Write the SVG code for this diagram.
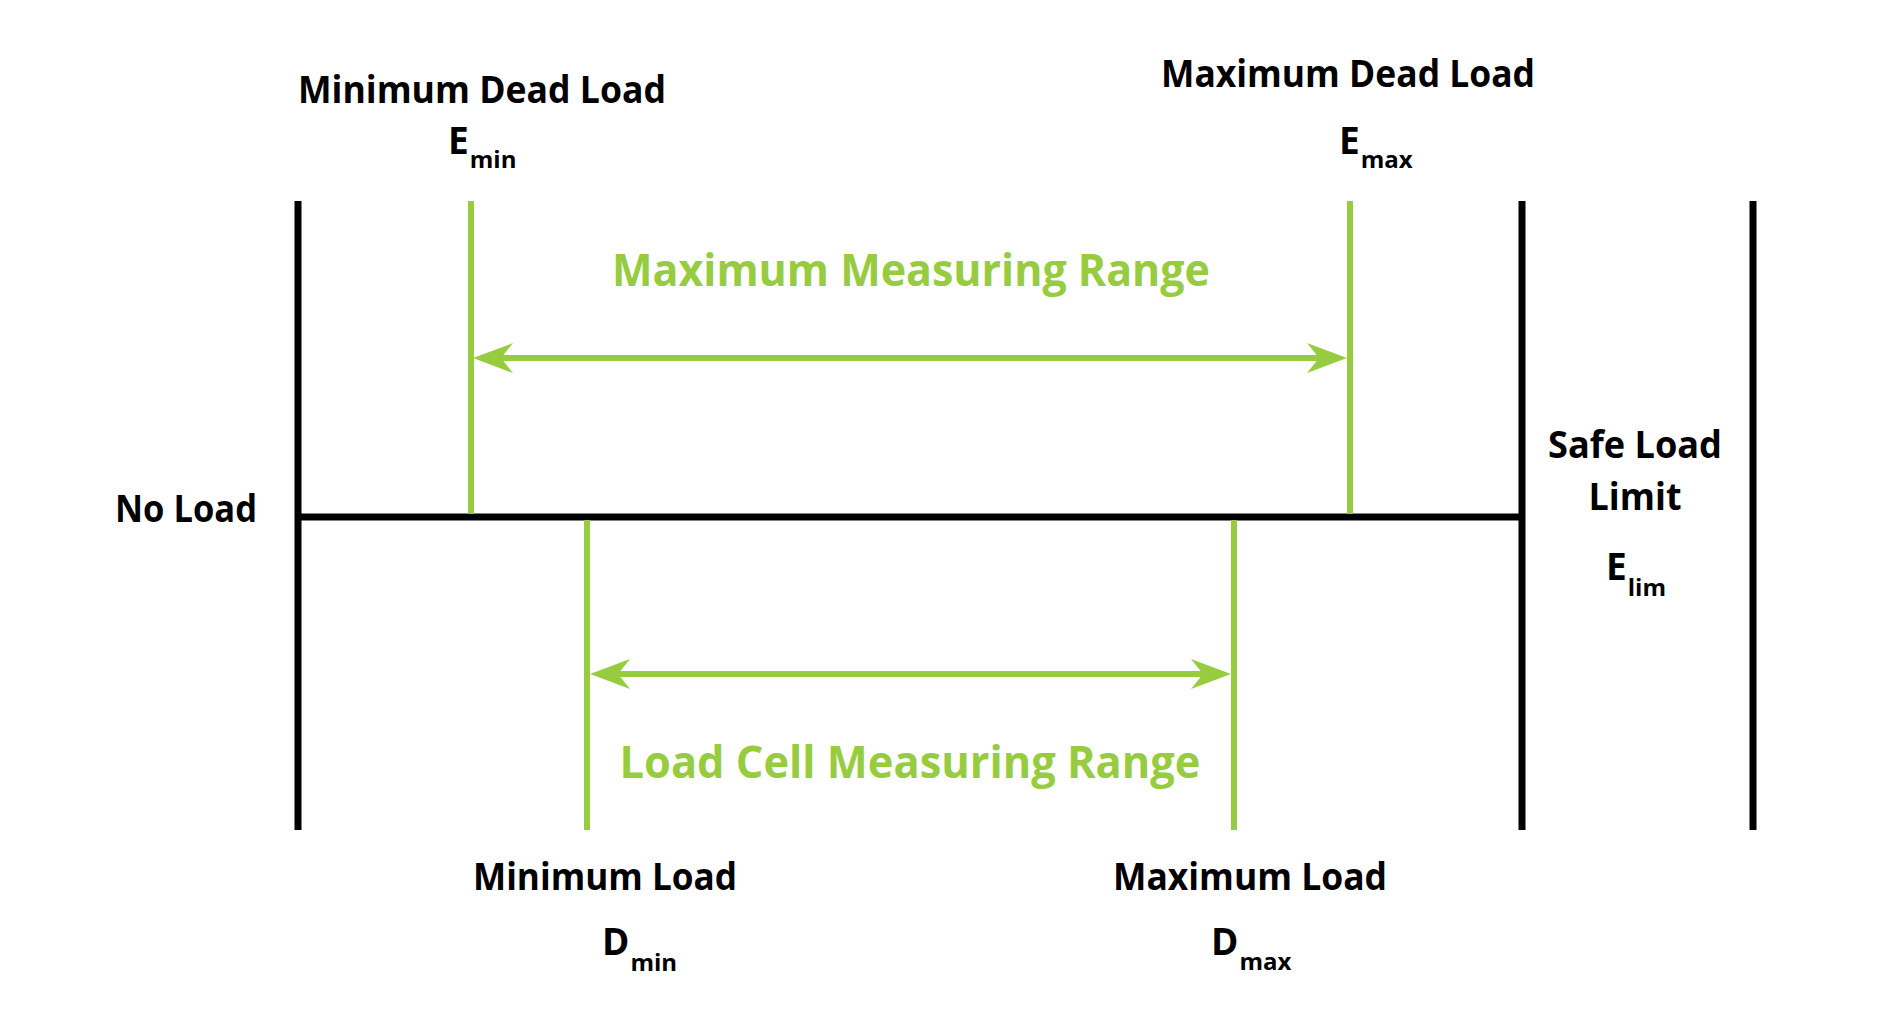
<svg xmlns="http://www.w3.org/2000/svg" width="1878" height="1028" viewBox="0 0 1878 1028">
<style>
.blk{stroke:#000;stroke-width:7;fill:none}
.grn{stroke:#97CC40;stroke-width:6;fill:none}
.lbl{font-family:"Open Sans",Lato,"Liberation Sans",sans-serif;font-weight:bold;fill:#000;font-size:37px}
.glbl{font-family:"Open Sans",Lato,"Liberation Sans",sans-serif;font-weight:bold;fill:#97CC40;font-size:44px}
.sub{font-size:24px}
</style>
<defs>
<marker id="ah" markerUnits="userSpaceOnUse" viewBox="0 0 40 30" refX="25" refY="15" markerWidth="40" markerHeight="30" orient="auto-start-reverse">
<path d="M0,0 L40,15 L0,30 L12,15 z" fill="#97CC40"/>
</marker>
</defs>
<rect width="1878" height="1028" fill="#fff"/>
<g id="connectors">
<line class="blk" x1="298" y1="201" x2="298" y2="830"/>
<line class="blk" x1="1522" y1="201" x2="1522" y2="830"/>
<line class="blk" x1="1753" y1="201" x2="1753" y2="830"/>
<line class="blk" x1="298" y1="517" x2="1522" y2="517"/>
<line class="grn" x1="471" y1="201" x2="471" y2="514"/>
<line class="grn" x1="1350" y1="201" x2="1350" y2="514"/>
<line class="grn" x1="587" y1="520" x2="587" y2="830"/>
<line class="grn" x1="1234" y1="520" x2="1234" y2="830"/>
<line class="grn" x1="488" y1="358" x2="1332" y2="358" marker-start="url(#ah)" marker-end="url(#ah)"/>
<line class="grn" x1="605" y1="674" x2="1216" y2="674" marker-start="url(#ah)" marker-end="url(#ah)"/>
</g>
<g id="min-dead-load">
<text class="lbl" x="482" y="103" text-anchor="middle" textLength="368" lengthAdjust="spacingAndGlyphs">Minimum Dead Load</text>
<text class="lbl" x="448" y="154">E<tspan class="sub" dx="1" dy="14">min</tspan></text>
</g>
<g id="max-dead-load">
<text class="lbl" x="1348" y="87" text-anchor="middle" textLength="374" lengthAdjust="spacingAndGlyphs">Maximum Dead Load</text>
<text class="lbl" x="1339" y="154">E<tspan class="sub" dx="1" dy="14">max</tspan></text>
</g>
<g id="no-load">
<text class="lbl" x="186" y="522" text-anchor="middle" textLength="142" lengthAdjust="spacingAndGlyphs">No Load</text>
</g>
<g id="safe-load-limit">
<text class="lbl" x="1635" y="458" text-anchor="middle" textLength="174" lengthAdjust="spacingAndGlyphs">Safe Load</text>
<text class="lbl" x="1635" y="510" text-anchor="middle" textLength="93" lengthAdjust="spacingAndGlyphs">Limit</text>
<text class="lbl" x="1606" y="580">E<tspan class="sub" dx="1" dy="16">lim</tspan></text>
</g>
<g id="max-measuring-range">
<text class="glbl" x="911" y="286" text-anchor="middle" textLength="598" lengthAdjust="spacingAndGlyphs">Maximum Measuring Range</text>
</g>
<g id="load-cell-measuring-range">
<text class="glbl" x="910" y="778" text-anchor="middle" textLength="581" lengthAdjust="spacingAndGlyphs">Load Cell Measuring Range</text>
</g>
<g id="min-load">
<text class="lbl" x="605" y="890" text-anchor="middle" textLength="264" lengthAdjust="spacingAndGlyphs">Minimum Load</text>
<text class="lbl" x="602" y="955">D<tspan class="sub" dx="1" dy="16">min</tspan></text>
</g>
<g id="max-load">
<text class="lbl" x="1250" y="890" text-anchor="middle" textLength="274" lengthAdjust="spacingAndGlyphs">Maximum Load</text>
<text class="lbl" x="1211" y="955">D<tspan class="sub" dx="1" dy="15">max</tspan></text>
</g>
</svg>
